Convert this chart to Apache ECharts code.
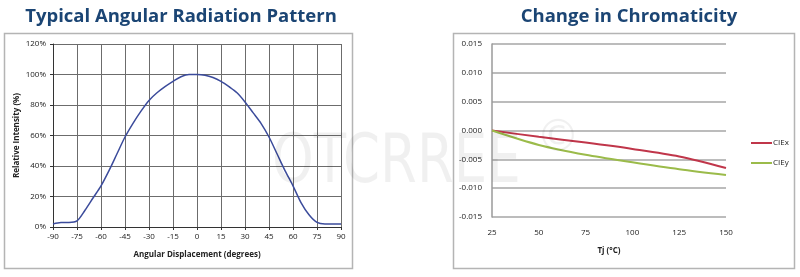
<!DOCTYPE html>
<html>
<head>
<meta charset="utf-8">
<script src="https://cdn.jsdelivr.net/npm/echarts@6/dist/echarts.min.js"></script>
<style>
  html, body { margin: 0; padding: 0; background: #fff; }
  #main { width: 800px; height: 277px; }
</style>
</head>
<body>
<div id="main"></div>
<script>
// angular radiation pattern (deg -> %)
var angleDeg = [-90, -85, -80, -75, -70, -65, -60, -55, -50, -45, -40, -35, -30, -25, -20, -15, -10, -5, 0,
    5, 10, 15, 20, 25, 30, 35, 40, 45, 50, 55, 60, 65, 70, 75, 80, 85, 90];
var intensity = [2, 3, 3, 4, 11, 19, 27, 37, 48, 59, 68, 76, 83, 88, 92, 95.5, 98.5, 100, 100,
    99.5, 98, 95.5, 92, 88, 82, 75, 68, 59, 48, 37, 27, 16, 8, 3, 2, 2, 2];

// chromaticity shift vs junction temp
var tjTemp = [25, 50, 75, 100, 125, 150];
var cieX = [0, -0.0011, -0.0021, -0.0032, -0.0045, -0.0065];
var cieY = [0, -0.0025, -0.0042, -0.0055, -0.0067, -0.0077];

var titleColor = '#1b4574';
var tickFont = { fontSize: 8, color: '#222', fontFamily: 'Open Sans' };

function pair(xs, ys) {
    var out = [];
    for (var i = 0; i < xs.length; i++) out.push([xs[i], ys[i]]);
    return out;
}

var chart = echarts.init(document.getElementById('main'));

var option = {
    animation: false,
    title: [{
        text: 'Typical Angular Radiation Pattern',
        left: 176, top: 2, textAlign: 'center',
        textStyle: { fontSize: 18.5, fontWeight: 'bold', color: titleColor, fontFamily: 'Open Sans' }
    }, {
        text: 'Change in Chromaticity',
        left: 624, top: 2, textAlign: 'center',
        textStyle: { fontSize: 18.5, fontWeight: 'bold', color: titleColor, fontFamily: 'Open Sans' }
    }],
    graphic: [{
        type: 'rect', shape: { x: 4.5, y: 33.5, width: 348, height: 235 },
        style: { fill: 'none', stroke: '#b4b4b4', lineWidth: 1.5 }, silent: true
    }, {
        type: 'rect', shape: { x: 453.5, y: 33.5, width: 341, height: 235 },
        style: { fill: 'none', stroke: '#b4b4b4', lineWidth: 1.5 }, silent: true
    }, {
        // watermark
        type: 'text', x: 272, y: 130, scaleX: 0.78, z: 100, silent: true,
        style: { text: 'OTCRREE', font: '68px "DejaVu Sans"', fill: 'rgba(0,0,0,0.06)' }
    }, {
        type: 'text', x: 536, y: 118, z: 100, silent: true,
        style: { text: '©', font: '44px "DejaVu Sans"', fill: 'rgba(0,0,0,0.06)' }
    }],
    legend: {
        data: ['CIEx', 'CIEy'],
        orient: 'vertical',
        left: 746, top: 134,
        itemWidth: 21, itemHeight: 2, itemGap: 12,
        icon: 'rect',
        textStyle: { fontSize: 8, color: '#222', fontFamily: 'Open Sans', padding: [0, 0, 0, -4] }
    },
    grid: [{
        left: 53, right: 459, top: 44, bottom: 50
    }, {
        left: 492, right: 74, top: 44, bottom: 60
    }],
    xAxis: [{
        gridIndex: 0, type: 'value', min: -90, max: 90, interval: 15,
        name: 'Angular Displacement (degrees)', nameLocation: 'middle', nameGap: 24,
        nameTextStyle: { fontSize: 8, fontWeight: 'bold', color: '#222', fontFamily: 'Open Sans' },
        axisLine: { onZero: false, lineStyle: { color: '#333', width: 1 } },
        axisTick: { show: true, length: 3, lineStyle: { color: '#333' } },
        axisLabel: Object.assign({ margin: 6 }, tickFont),
        splitLine: { show: true, lineStyle: { color: '#6c6c6c', width: 1 } }
    }, {
        gridIndex: 1, type: 'value', min: 25, max: 150, interval: 25,
        name: 'Tj (°C)', nameLocation: 'middle', nameGap: 30,
        nameTextStyle: { fontSize: 8, fontWeight: 'bold', color: '#222', fontFamily: 'Open Sans' },
        axisLine: { show: false, onZero: false },
        axisTick: { show: false },
        axisLabel: Object.assign({ margin: 12 }, tickFont),
        splitLine: { show: false }
    }],
    yAxis: [{
        gridIndex: 0, type: 'value', min: 0, max: 120, interval: 20,
        name: 'Relative Intensity (%)', nameLocation: 'middle', nameGap: 32, nameRotate: 90,
        nameTextStyle: { fontSize: 8, fontWeight: 'bold', color: '#222', fontFamily: 'Open Sans' },
        axisLine: { show: true, onZero: false, lineStyle: { color: '#333', width: 1 } },
        axisTick: { show: true, length: 3, lineStyle: { color: '#333' } },
        axisLabel: Object.assign({ margin: 7, formatter: '{value}%' }, tickFont),
        splitLine: { show: true, lineStyle: { color: '#6c6c6c', width: 1 } }
    }, {
        gridIndex: 1, type: 'value', min: -0.015, max: 0.015, interval: 0.005,
        axisLine: { show: true, onZero: false, lineStyle: { color: '#9a9a9a', width: 1.5 } },
        axisTick: { show: false },
        axisLabel: Object.assign({ margin: 10, formatter: function (v) { return v.toFixed(3); } }, tickFont),
        splitLine: { show: true, lineStyle: { color: '#a6a6a6', width: 1.5 } }
    }],
    series: [{
        name: 'Intensity', type: 'line', xAxisIndex: 0, yAxisIndex: 0,
        data: pair(angleDeg, intensity),
        smooth: 0.3, showSymbol: false,
        lineStyle: { color: '#3b4b9b', width: 1.5 }
    }, {
        name: 'CIEx', type: 'line', xAxisIndex: 1, yAxisIndex: 1,
        data: pair(tjTemp, cieX),
        smooth: 0.3, showSymbol: false,
        itemStyle: { color: '#c0364a' },
        lineStyle: { color: '#c0364a', width: 2 }
    }, {
        name: 'CIEy', type: 'line', xAxisIndex: 1, yAxisIndex: 1,
        data: pair(tjTemp, cieY),
        smooth: 0.3, showSymbol: false,
        itemStyle: { color: '#9bbb4a' },
        lineStyle: { color: '#9bbb4a', width: 2 }
    }]
};

chart.setOption(option);
</script>
</body>
</html>
